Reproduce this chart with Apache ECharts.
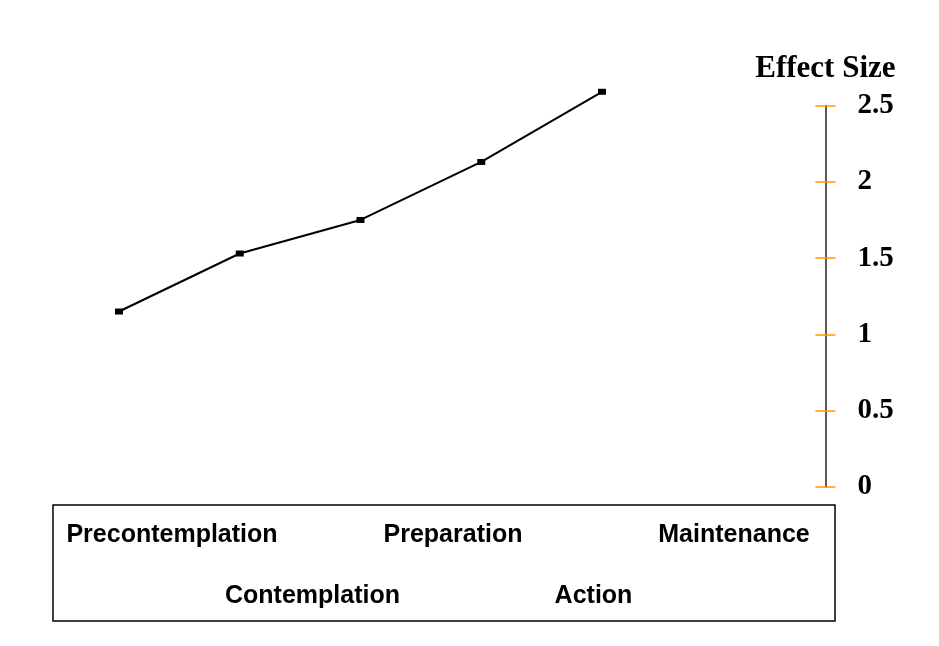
<!DOCTYPE html>
<html>
<head>
<meta charset="utf-8">
<title>Effect Size</title>
<script src="https://cdn.jsdelivr.net/npm/echarts@6/dist/echarts.min.js"></script>
<style>
  html, body { margin: 0; padding: 0; background: #fff; }
  #chart { width: 939px; height: 646px; }
</style>
</head>
<body>
<div id="chart"></div>
<script>
// stages of change
const stages = ['Precontemplation', 'Contemplation', 'Preparation', 'Action', 'Maintenance']
// effect size per stage
const effectSizes = [1.15, 1.53, 1.75, 2.13, 2.59]
const yMin = 0
const yMax = 2.5
const yStep = 0.5

const chart = echarts.init(document.getElementById('chart'))

const serif = '"Liberation Serif", "DejaVu Serif", serif'
const sans = '"Liberation Sans", Arial, sans-serif'

chart.setOption({
  animation: false,
  grid: [
    { left: 58.6, right: 276.6, top: 105.5, bottom: 159 },
    { left: 101.75, right: 134.75, top: 400, bottom: 141 }
  ],
  xAxis: [
    {
      type: 'category',
      gridIndex: 0,
      data: stages,
      axisLine: { show: false },
      axisTick: { show: false },
      axisLabel: { show: false }
    },
    {
      type: 'category',
      gridIndex: 1,
      data: stages,
      axisLine: { show: false },
      axisTick: { show: false },
      axisLabel: {
        interval: 0,
        margin: 0,
        verticalAlign: 'top',
        lineHeight: 61,
        color: '#000',
        fontFamily: sans,
        fontWeight: 'bold',
        fontSize: 25,
        // stagger the labels on two rows
        formatter: (v, i) => (i % 2 ? '\n' + v : v)
      }
    }
  ],
  yAxis: [
    {
      type: 'value',
      gridIndex: 0,
      position: 'right',
      offset: 163,
      min: yMin,
      max: yMax,
      interval: yStep,
      name: 'Effect Size',
      nameLocation: 'end',
      nameGap: 37,
      nameTextStyle: {
        color: '#000',
        fontFamily: serif,
        fontWeight: 'bold',
        fontSize: 31,
        align: 'center',
        verticalAlign: 'middle'
      },
      splitLine: { show: false },
      axisLine: { show: true, lineStyle: { color: '#222', width: 1.5 } },
      axisTick: { show: true, length: 10, lineStyle: { color: '#ff9900', width: 1.5 } },
      axisLabel: {
        margin: 32,
        color: '#000',
        fontFamily: serif,
        fontWeight: 'bold',
        fontSize: 29
      }
    },
    {
      // inner half of the ticks
      type: 'value',
      gridIndex: 0,
      position: 'right',
      offset: 163,
      min: yMin,
      max: yMax,
      interval: yStep,
      splitLine: { show: false },
      axisLine: { show: false },
      axisTick: { show: true, inside: true, length: 10, lineStyle: { color: '#ff9900', width: 1.5 } },
      axisLabel: { show: false }
    },
    {
      // placeholder for the label grid
      type: 'value',
      gridIndex: 1,
      show: false
    }
  ],
  graphic: [
    {
      type: 'rect',
      shape: { x: 53, y: 505, width: 782, height: 116 },
      style: { fill: 'none', stroke: '#000', lineWidth: 1.5 },
      z: -1
    }
  ],
  series: [
    {
      type: 'line',
      xAxisIndex: 0,
      yAxisIndex: 0,
      data: effectSizes,
      clip: false,
      symbol: 'rect',
      symbolSize: [8, 6],
      itemStyle: { color: '#000' },
      lineStyle: { color: '#000', width: 2 }
    }
  ]
})
</script>
</body>
</html>
